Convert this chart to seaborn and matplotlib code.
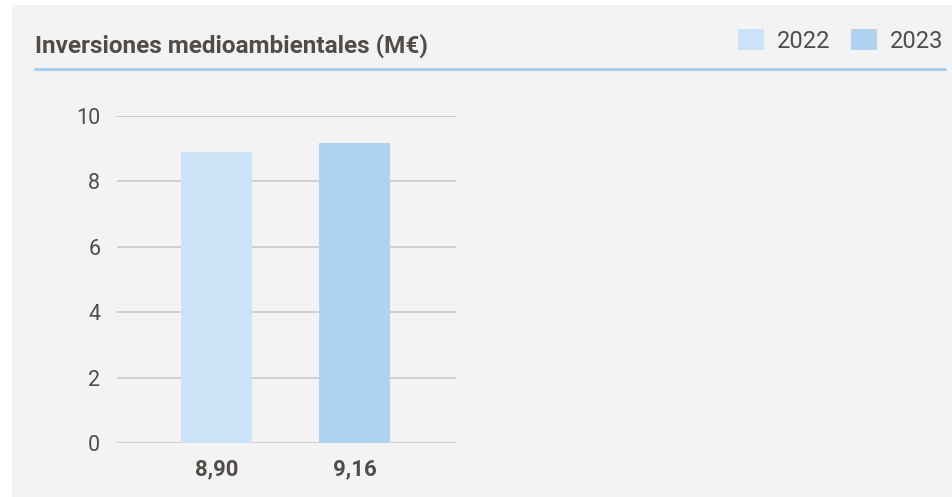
import numpy as np
import pandas as pd
import matplotlib
matplotlib.use("Agg")
import matplotlib.pyplot as plt
import seaborn as sns
from matplotlib.patches import Rectangle, Patch
from matplotlib.lines import Line2D

# data
years = ["2022", "2023"]
values = [8.90, 9.16]
labels = ["8,90", "9,16"]
colors = ["#cce2f6", "#b0d3f1"]
title = "Inversiones medioambientales (M€)"

TXT = "#514c48"
BG = "#f3f3f3"

sns.set_theme(style="white")
plt.rcParams["font.family"] = ["Roboto", "DejaVu Sans"]

df = pd.DataFrame({"label": labels, "year": years, "value": values})

fig = plt.figure(figsize=(9.53, 4.97), dpi=100)
fig.patch.set_facecolor("white")
# grey card behind everything
fig.patches.append(Rectangle((12 / 953, 0), 1 - 12 / 953, 1 - 5 / 497,
                             transform=fig.transFigure, facecolor=BG,
                             edgecolor="none", zorder=-10))

ax = fig.add_axes([117 / 953, 1 - 443 / 497, 339 / 953, 327 / 497])
ax.set_facecolor(BG)

sns.barplot(data=df, x="label", y="value", hue="year", palette=colors,
            dodge=False, width=0.515, legend=False, saturation=1,
            linewidth=0, ax=ax, zorder=3)

ax.set_ylim(0, 10)
ax.set_xlim(-0.72, 1.735)
ax.set_yticks(np.arange(0, 11, 2))
ax.yaxis.grid(True, color="#cacaca", linewidth=1.2, zorder=0)
ax.set_axisbelow(True)
for s in ax.spines.values():
    s.set_visible(False)
ax.set_xlabel("")
ax.set_ylabel("")
ax.tick_params(axis="y", length=0, pad=12, labelsize=15.5, labelcolor=TXT)
ax.tick_params(axis="x", length=0, pad=11, labelsize=16, labelcolor=TXT)
for t in ax.get_xticklabels():
    t.set_fontweight("bold")

# title and underline
fig.text(35 / 953, 1 - 46 / 497, title, fontsize=17.5, fontweight="bold",
         color=TXT, va="center", ha="left")
fig.add_artist(Line2D([35 / 953, 945 / 953], [1 - 69 / 497, 1 - 69 / 497],
                      transform=fig.transFigure, color="#a9cff0", linewidth=2.2))

handles = [Patch(facecolor=c, edgecolor="none", label=y) for c, y in zip(colors, years)]
fig.legend(handles=handles, loc="center right", ncol=2, frameon=False,
           bbox_to_anchor=(943 / 953, 1 - 41 / 497), borderpad=0, borderaxespad=0,
           fontsize=17, labelcolor=TXT, handlelength=1.1, handleheight=0.97,
           handletextpad=0.55, columnspacing=0.85)

fig.savefig("out.png", dpi=100, facecolor="white")
